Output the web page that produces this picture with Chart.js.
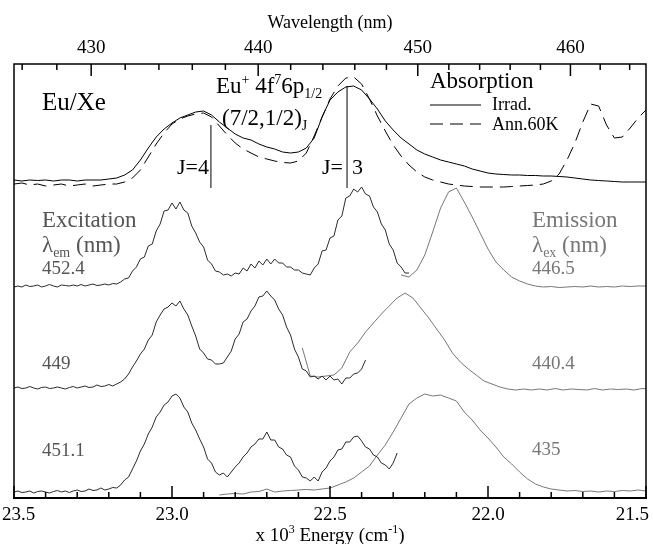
<!DOCTYPE html>
<html>
<head>
<meta charset="utf-8">
<script src="https://cdn.jsdelivr.net/npm/chart.js@4.4.1/dist/chart.umd.min.js"></script>
<style>
  body { margin: 0; background: #fff; }
</style>
</head>
<body>
<canvas id="myChart" width="653" height="544"></canvas>
<script>
    // energies in 10^3 cm-1, intensities in arbitrary (stacked) units
    const absStart = 23.5, absStep = 0.025;
    const absIrrad = [318,317,318,317.5,318,317,318,318,317,318,318,318,319,320,323,328,338,350,361,369,
        375,380,383,386,387,383,376,370,364,360,358,354,351,349,346,345,346,350,360,381,
        398,406,411,412,408,399,389,377,368,360,354,348,344,341,338,336,334,332,329,327,
        325,324,323.5,323,323,322.5,322.5,322,322,321.5,321,320,319,318,317.5,317,316.5,316,316,316,316];
    const absAnn = [314,315,313,314,312,313,314,312,313,314,312,313,314,314,316,320,328,341,354,365,
        374,379,382,384,385,381,372,363,355,349,345,341,339,337,335.5,335,337,345,362,381,
        399,412,420,421,414,399,382,367,353,342,333,326,321,318,316,314,313,312,311.5,311,
        311,311,311,311.5,312,312.5,313,314,317,324,338,355,376,394,392,373,360,361,370,380,388];

    // excitation spectra, fine grid from 23.5
    const excStart = 23.5, excStep = 0.0125;
    const exc452 = [211,212,211,213,211.5,212,213,211,212,213.5,212,211,213,212.5,212,213,212,213.5,212,213,
        214,212.5,213,214,213,214.5,214,
        216,219,220,227,231,239,241,252,254,267,274,287,288,295,289,296,288,285,272,265,
        256,251,238,234,227,226,223,224,222,225,224,230,227,234,230,237,233,239,234,239,
        235,235,231,231,228,228,225,224,223,230,234,247,248,260,262,278,282,300,302,309,
        306,311,304,302,291,286,274,268,254,248,235,231,225,225];
    const exc449 = [110,111,109.5,110,111.5,110,109,110.5,111,109.5,110,111,110,109,110.5,111.5,110,111,112,110.5,
        111,113,111.5,112,113.5,112,114,
        116,119,124,131,137,144,149,158,163,176,183,189,191,195,192,197,189,183,172,162,
        149,145,139,138,134,134,135,141,147,159,164,176,179,187,192,201,202,207,202,198,
        189,183,171,163,149,141,129,127,121,122,119,122,118,122,118,119,114,120,120,124,
        125,129,138];
    const exc451 = [6,7,5.5,6,7,5,6.5,7,6,5,6.5,7.5,6,7,5.5,7,8,6.5,7,9,7.5,8,10,8,9,10.5,10,
        13,18,21,29,37,47,54,64,71,81,86,93,96,102,104,100,91,86,75,68,
        59,51,39,35,26,23,25,21,26,31,35,41,45,51,54,59,59,66,58,58,
        51,49,43,41,32,28,21,20,17,21,17,26,30,37,41,48,49,56,56,61,
        62,57,51,49,43,41,35,33,29,35,45];

    // emission spectra
    const emStep = 0.025;
    const em446Start = 22.275;
    const em446 = [223,221,228,243,266,290,306,310,296,281,265,249,236,228,221,217,214,212,211,211.5,
        210.5,211,211.5,211,212,211,211.5,211,212,211.5,212,212];
    const em440Start = 22.5875;
    const em440 = [150,122,121,122,123,130,146,155,166,175,184,192,200,205,200,190,180,169,158,145,
        136,129,123,117,114,111,109,108,109,108,109,108,109.5,108,109,108.5,108,109.5,108,109,
        108.5,109,108,109.5,109];
    const em435Start = 22.85;
    const em435 = [3,4,4.5,4,6,6.5,9,6,7,7.5,8,8.5,8,9,10,13,16,20,26,32,
        43,53,66,80,94,100,104,102,103,100,97,86,78,68,60,51,41,34,26,19,
        14,11,9,8,7,7.5,6.5,7,6,7,6.5,7.5,7,8,7];

    // J markers (energy, from, to)
    const jLines = [[22.877, 310, 373], [22.446, 310, 412]];

    const energyTicks = [23.5, 23.0, 22.5, 22.0, 21.5];
    const wavelengthTicks = [430, 440, 450, 460];

    function pts(start, step, vals) {
        return vals.map((v, i) => ({ x: start - i * step, y: v }));
    }

    const serif = '"Liberation Serif", "Times New Roman", serif';
    function font(size) { return size + 'px ' + serif; }

    function richText(ctx, parts, x, y, size, align) {
        const small = Math.round(size * 0.62);
        let w = 0;
        parts.forEach(p => { ctx.font = font(p[1] ? small : size); w += ctx.measureText(p[0]).width; });
        let cx = align === 'center' ? x - w / 2 : x;
        ctx.textAlign = 'left';
        ctx.textBaseline = 'alphabetic';
        parts.forEach(p => {
            ctx.font = font(p[1] ? small : size);
            const dy = p[1] === 'sup' ? -size * 0.4 : p[1] === 'sub' ? size * 0.22 : 0;
            ctx.fillText(p[0], cx, y + dy);
            cx += ctx.measureText(p[0]).width;
        });
    }

    const decor = {
        id: 'decor',
        afterDraw(chart) {
            const { ctx, chartArea: a, scales: { x, x2 } } = chart;
            ctx.save();
            ctx.strokeStyle = '#000';
            ctx.fillStyle = '#000';
            ctx.lineWidth = 1.5;
            ctx.strokeRect(a.left, a.top, a.right - a.left, a.bottom - a.top);
            ctx.lineWidth = 2.2;
            ctx.beginPath(); ctx.moveTo(a.left - 1, a.bottom); ctx.lineTo(a.right + 1, a.bottom); ctx.stroke();

            // bottom ticks every 0.1
            ctx.lineWidth = 1.5;
            for (let k = 0; k <= 20; k++) {
                const px = x.getPixelForValue(23.5 - k * 0.1);
                const len = k % 5 === 0 ? 12 : 6;
                ctx.beginPath(); ctx.moveTo(px, a.bottom); ctx.lineTo(px, a.bottom - len); ctx.stroke();
            }
            // top ticks every 2 nm
            for (let lam = 426; lam <= 464; lam += 2) {
                const px = x2.getPixelForValue(1e4 / lam);
                const len = lam % 10 === 0 ? 12 : 6;
                ctx.beginPath(); ctx.moveTo(px, a.top); ctx.lineTo(px, a.top + len); ctx.stroke();
            }

            ctx.textBaseline = 'alphabetic';
            ctx.textAlign = 'center';
            ctx.font = font(19);
            energyTicks.forEach(v => {
                const s = v.toFixed(1);
                const w = ctx.measureText(s).width;
                const px = Math.min(Math.max(x.getPixelForValue(v), w / 2 + 2), chart.width - w / 2 - 4);
                ctx.fillText(s, px, 520);
            });
            wavelengthTicks.forEach(l => {
                ctx.fillText(String(l), x2.getPixelForValue(1e4 / l), 53);
            });
            ctx.font = font(18);
            ctx.fillText('Wavelength (nm)', (a.left + a.right) / 2, 28);
            richText(ctx, [['x 10', ''], ['3', 'sup'], [' Energy (cm', ''], ['-1', 'sup'], [')', '']],
                (a.left + a.right) / 2, 541, 19, 'center');

            // annotations
            ctx.fillStyle = '#000';
            ctx.textAlign = 'left';
            ctx.font = font(25);
            ctx.fillText('Eu/Xe', 42, 110);
            richText(ctx, [['Eu', ''], ['+', 'sup'], [' 4f', ''], ['7', 'sup'], ['6p', ''], ['1/2', 'sub']], 216, 93, 23);
            richText(ctx, [['(7/2,1/2)', ''], ['J', 'sub']], 222, 125, 23);
            ctx.font = font(22);
            ctx.fillText('J=4', 177, 174);
            ctx.fillText('J=', 322, 174);
            ctx.fillText('3', 352, 174);

            ctx.font = font(23);
            ctx.fillText('Absorption', 430, 88);
            ctx.font = font(18);
            ctx.fillText('Irrad.', 492, 110);
            ctx.fillText('Ann.60K', 492, 130);
            ctx.lineWidth = 1;
            ctx.beginPath(); ctx.moveTo(430, 105); ctx.lineTo(481, 105); ctx.stroke();
            ctx.setLineDash([13, 7]);
            ctx.beginPath(); ctx.moveTo(430, 124); ctx.lineTo(481, 124); ctx.stroke();
            ctx.setLineDash([]);

            ctx.fillStyle = '#555';
            ctx.font = font(23);
            ctx.fillText('Excitation', 42, 227);
            richText(ctx, [['\u03bb', ''], ['em', 'sub'], [' (nm)', '']], 42, 252, 23);
            ctx.font = font(19);
            ctx.fillText('452.4', 42, 274);
            ctx.fillText('449', 42, 369);
            ctx.fillText('451.1', 42, 456);

            ctx.fillStyle = '#777';
            ctx.font = font(23);
            ctx.fillText('Emission', 532, 227);
            richText(ctx, [['\u03bb', ''], ['ex', 'sub'], [' (nm)', '']], 532, 252, 23);
            ctx.font = font(19);
            ctx.fillText('446.5', 532, 274);
            ctx.fillText('440.4', 532, 369);
            ctx.fillText('435', 532, 455);
            ctx.restore();
        }
    };

    const excColor = '#2a2a2a';
    const emColor = '#777777';
    const line = (data, color, extra) => Object.assign({
        data: data, borderColor: color, borderWidth: 1, pointRadius: 0, tension: 0, fill: false
    }, extra || {});

    const datasets = [
        line(pts(absStart, absStep, absIrrad), '#000'),
        line(pts(absStart, absStep, absAnn), '#000', { borderDash: [13, 7] }),
        ...jLines.map(j => line([{ x: j[0], y: j[1] }, { x: j[0], y: j[2] }], '#555', { borderWidth: 1.5 })),
        line(pts(excStart, excStep, exc452), excColor),
        line(pts(excStart, excStep, exc449), excColor),
        line(pts(excStart, excStep, exc451), excColor),
        line(pts(em446Start, emStep, em446), emColor),
        line(pts(em440Start, emStep, em440), emColor),
        line(pts(em435Start, emStep, em435), emColor)
    ];

    new Chart('myChart', {
        type: 'line',
        data: { datasets: datasets },
        options: {
            responsive: false,
            animation: false,
            layout: { padding: { left: 14, right: 7, top: 0, bottom: 0 } },
            plugins: { legend: { display: false }, tooltip: { enabled: false } },
            scales: {
                x: {
                    type: 'linear', position: 'bottom', min: 21.5, max: 23.5, reverse: true,
                    ticks: { display: false }, grid: { display: false }, border: { display: false },
                    afterFit: s => { s.height = 46; }
                },
                x2: {
                    type: 'linear', position: 'top', min: 21.5, max: 23.5, reverse: true,
                    ticks: { display: false }, grid: { display: false }, border: { display: false },
                    afterFit: s => { s.height = 64; }
                },
                y: { type: 'linear', min: 0, max: 434, display: false }
            }
        },
        plugins: [decor]
    });
</script>
</body>
</html>
